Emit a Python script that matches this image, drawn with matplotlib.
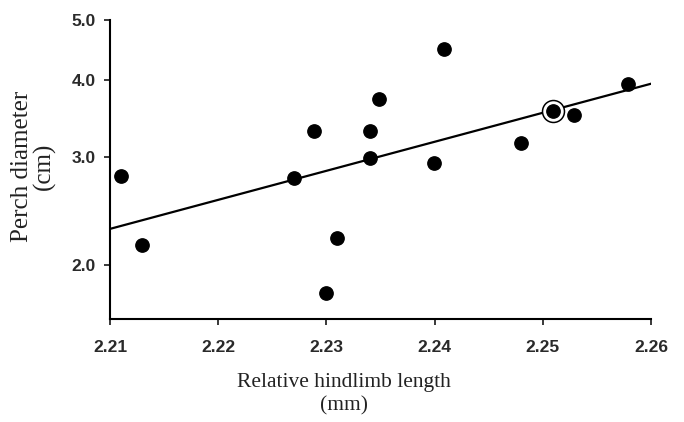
import matplotlib
matplotlib.use("Agg")
import matplotlib.pyplot as plt
from matplotlib.ticker import FixedLocator, FormatStrFormatter, NullLocator

# relative hindlimb length (mm) vs perch diameter (cm)
hindlimb = [2.2110, 2.2130, 2.2270, 2.2289, 2.2300, 2.2310, 2.2340, 2.2340,
            2.2349, 2.2399, 2.2409, 2.2480, 2.2529, 2.2579]
perch = [2.79, 2.16, 2.765, 3.30, 1.805, 2.21, 3.30, 2.99,
         3.72, 2.93, 4.48, 3.16, 3.50, 3.94]

# the circled species
circled_x = [2.2509]
circled_y = [3.56]

# regression line end points
fit_x = [2.21, 2.26]
fit_y = [2.29, 3.94]

x_ticks = [2.21, 2.22, 2.23, 2.24, 2.25, 2.26]
y_ticks = [2.0, 3.0, 4.0, 5.0]

fig = plt.figure(figsize=(6.84, 4.22), dpi=100)
ax = fig.add_axes([110 / 684, 1 - 319 / 422, 541 / 684, 299 / 422])

ax.plot(fit_x, fit_y, color='black', lw=1.6, zorder=2)
ax.scatter(hindlimb, perch, s=92, color='black', zorder=3)
ax.scatter(circled_x, circled_y, s=250, facecolor='white', edgecolor='black', lw=1.1, zorder=3)
ax.scatter(circled_x, circled_y, s=92, color='black', zorder=4)

ax.set_yscale('log')
ax.set_xlim(2.21, 2.26)
ax.set_ylim(1.635, 5.0)

ax.xaxis.set_major_locator(FixedLocator(x_ticks))
ax.xaxis.set_major_formatter(FormatStrFormatter('%.2f'))
ax.yaxis.set_major_locator(FixedLocator(y_ticks))
ax.yaxis.set_major_formatter(FormatStrFormatter('%.1f'))
ax.yaxis.set_minor_locator(NullLocator())

for s in ['top', 'right']:
    ax.spines[s].set_visible(False)
for s in ['left', 'bottom']:
    ax.spines[s].set_linewidth(1.5)

ax.tick_params(axis='both', direction='out', length=4, width=1.3, labelsize=12.5, colors='#2a2a2a')
ax.tick_params(axis='x', pad=11)
ax.tick_params(axis='y', pad=6)
for lab in ax.get_xticklabels() + ax.get_yticklabels():
    lab.set_family('Liberation Sans')
    lab.set_fontweight('bold')

ax.set_xlabel('Relative hindlimb length\n(mm)', family='Liberation Serif', fontsize=15.5,
              color='#222', linespacing=1.3)
ax.xaxis.set_label_coords(234 / 541, -54 / 299)
ax.set_ylabel('Perch diameter\n(cm)', family='Liberation Serif', fontsize=18,
              color='#222', linespacing=1.0)
ax.yaxis.set_label_coords(-54 / 541, 0.51)

fig.savefig('out.png', dpi=100)
